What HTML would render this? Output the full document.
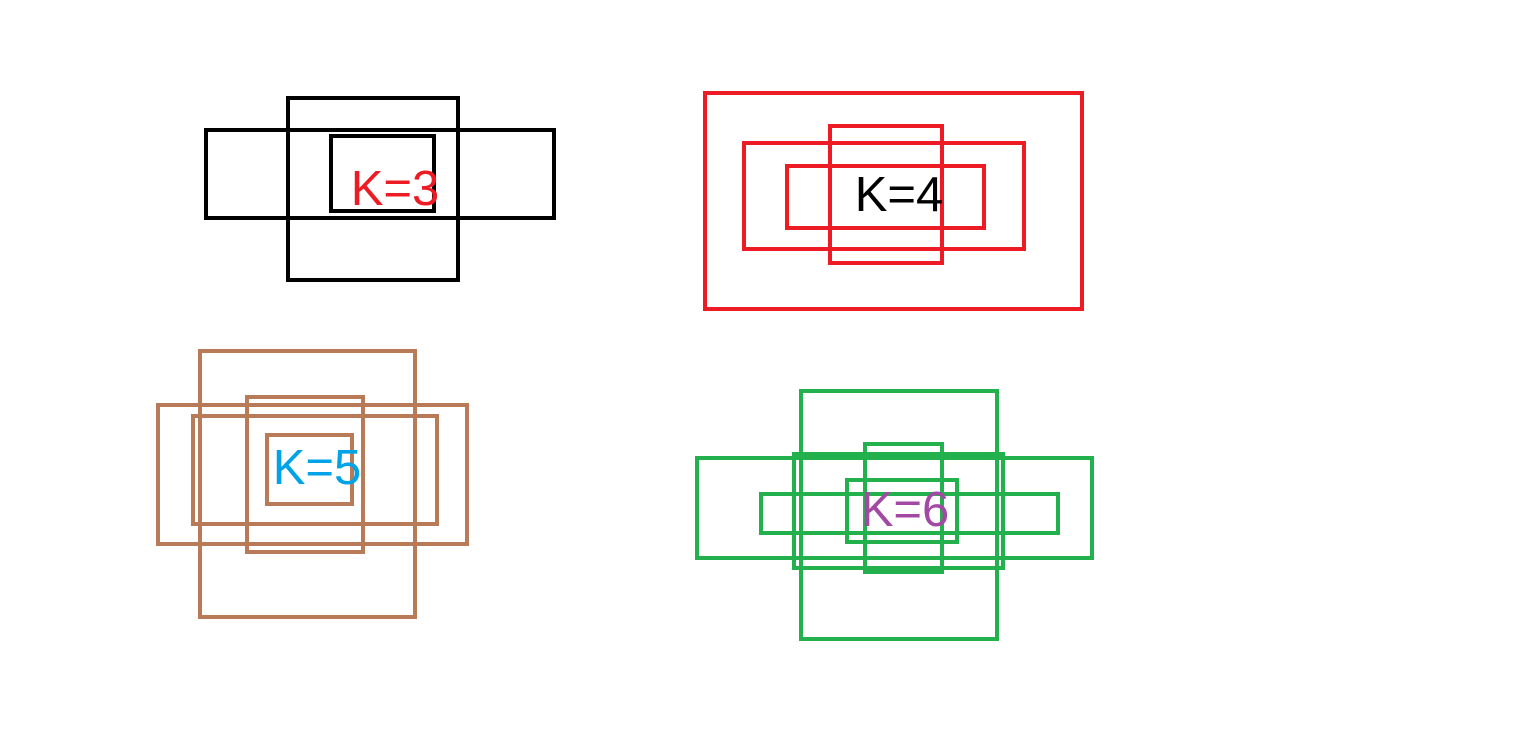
<!DOCTYPE html>
<html>
<head>
<meta charset="utf-8">
<style>
html,body{margin:0;padding:0;background:#fff;width:1530px;height:732px;overflow:hidden}
svg{display:block}
text{font-family:"Liberation Sans",sans-serif;font-size:49px}
</style>
</head>
<body>
<svg id="canvas" width="1530" height="732" viewBox="0 0 1530 732">
</svg>
<script>
const groups = ['k3', 'k4', 'k5', 'k6'];
const groupColors = ['#000000', '#ed1c24', '#b97a57', '#22b14c'];
const labels = ['K=3', 'K=4', 'K=5', 'K=6'];
const labelColors = ['#ed1c24', '#000000', '#00a2e8', '#a349a4'];
const labelX = [395, 899, 317, 905];
const labelY = [205, 211, 484, 526];
const rectsK3 = [[206,130,554,218],[288,98,458,280],[331,136,434,211]];
const rectsK4 = [[705,93,1082,309],[744,143,1024,249],[787,166,984,228],[830,126,942,263]];
const rectsK5 = [[200,351,415,617],[158,405,467,544],[193,416,437,524],[247,397,363,552],[267,435,352,504]];
const rectsK6 = [[801,391,997,639],[697,458,1092,558],[794,454,1003,568],[761,494,1058,533],[865,444,942,572],[847,480,957,542]];
const allRects = [rectsK3, rectsK4, rectsK5, rectsK6];

const svg = document.getElementById('canvas');
const NS = 'http://www.w3.org/2000/svg';
groups.forEach((g, gi) => {
  const grp = document.createElementNS(NS, 'g');
  
  
  allRects[gi].forEach((r, ri) => {
    const el = document.createElementNS(NS, 'rect');
    
    
    el.setAttribute('x', r[0]);
    el.setAttribute('y', r[1]);
    el.setAttribute('width', r[2] - r[0]);
    el.setAttribute('height', r[3] - r[1]);
    el.setAttribute('fill', 'none');
    el.setAttribute('stroke', groupColors[gi]);
    el.setAttribute('stroke-width', '4');
    grp.appendChild(el);
  });
  const t = document.createElementNS(NS, 'text');
  
  
  t.setAttribute('x', labelX[gi]);
  t.setAttribute('y', labelY[gi]);
  t.setAttribute('text-anchor', 'middle');
  t.setAttribute('fill', labelColors[gi]);
  t.textContent = labels[gi];
  grp.appendChild(t);
  svg.appendChild(grp);
});
</script>
</body>
</html>
